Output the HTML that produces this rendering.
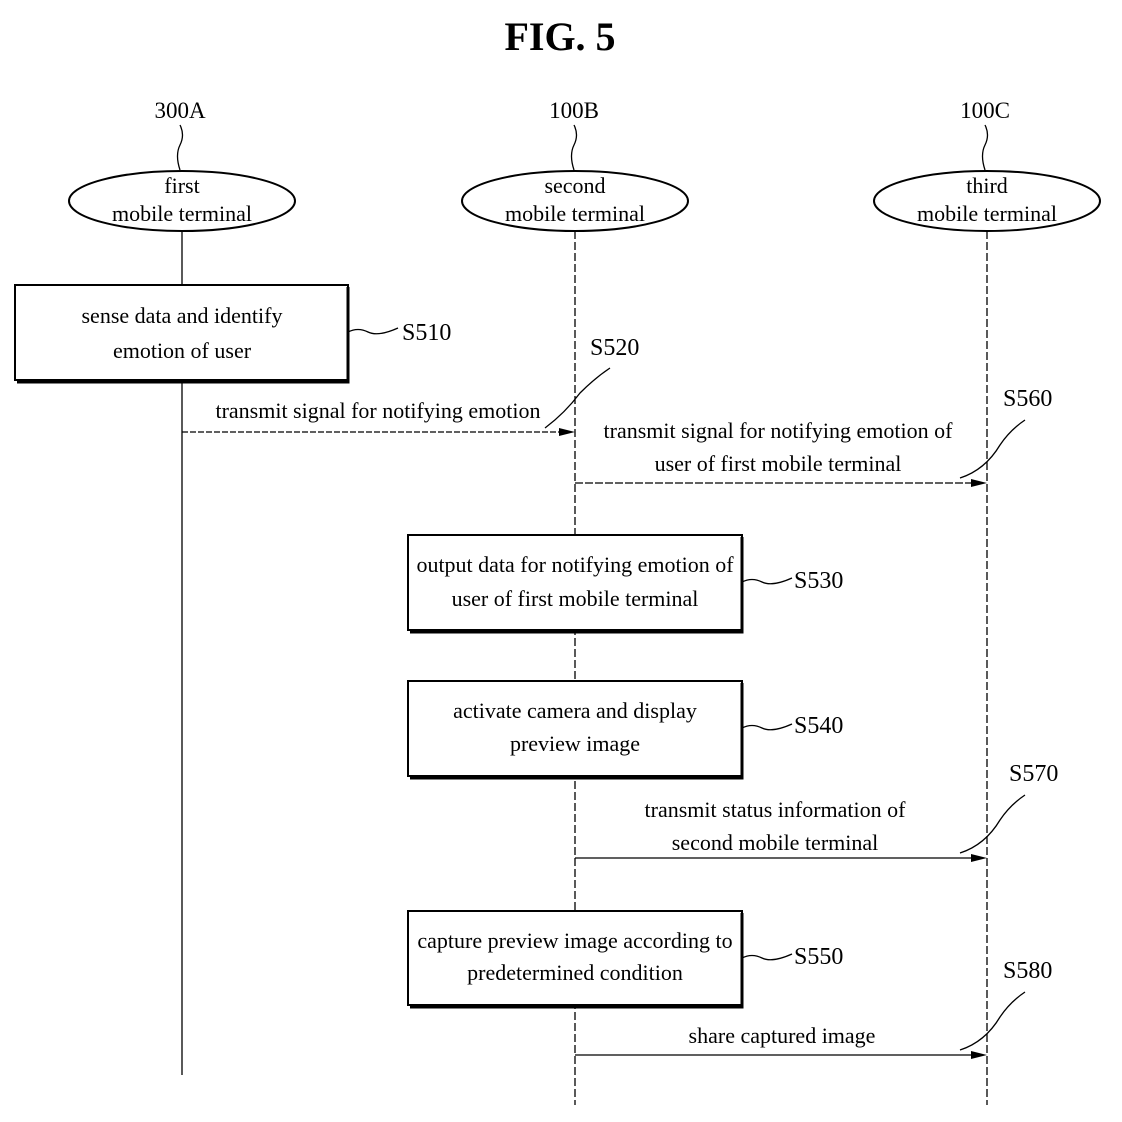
<!DOCTYPE html>
<html><head><style>body{margin:0;background:#fff}svg{display:block}</style></head><body>
<svg width="1122" height="1122" xmlns="http://www.w3.org/2000/svg" font-family="Liberation Serif, serif" fill="none" stroke="#000">
<text x="560" y="50" font-size="40" font-weight="bold" text-anchor="middle" fill="#000" stroke="none">FIG. 5</text>
<g font-size="23" fill="#000" stroke="none" text-anchor="middle">
<text x="180" y="118">300A</text><text x="574" y="118">100B</text><text x="985" y="118">100C</text>
</g>
<g stroke-width="1.3">
<path d="M180 125 q5 10 0 20 q-5 10 0 25"/><path d="M574 125 q5 10 0 20 q-5 10 0 25"/><path d="M985 125 q5 10 0 20 q-5 10 0 25"/>
<ellipse cx="182" cy="201" rx="113" ry="30" stroke-width="2"/>
<ellipse cx="575" cy="201" rx="113" ry="30" stroke-width="2"/>
<ellipse cx="987" cy="201" rx="113" ry="30" stroke-width="2"/>
<line x1="182" y1="231" x2="182" y2="1075"/>
<line x1="575" y1="231" x2="575" y2="1105" stroke-dasharray="8 3"/>
<line x1="987" y1="231" x2="987" y2="1105" stroke-dasharray="8 3"/>
</g>
<g font-size="22" fill="#000" stroke="none" text-anchor="middle">
<text x="182" y="193">first</text><text x="182" y="221">mobile terminal</text>
<text x="575" y="193">second</text><text x="575" y="221">mobile terminal</text>
<text x="987" y="193">third</text><text x="987" y="221">mobile terminal</text>
</g>
<g fill="#fff" stroke-width="2">
<rect x="15" y="285" width="333" height="95"/>
<rect x="408" y="535" width="334" height="95"/>
<rect x="408" y="681" width="334" height="95"/>
<rect x="408" y="911" width="334" height="94"/>
</g>
<g stroke-width="3"><path d="M348 287V382H17"/><path d="M742 537V632H410"/><path d="M742 683V778H410"/><path d="M742 913V1007H410"/></g>
<g font-size="22" fill="#000" stroke="none" text-anchor="middle">
<text x="182" y="323">sense data and identify</text><text x="182" y="358">emotion of user</text>
<text x="575" y="572">output data for notifying emotion of</text><text x="575" y="606">user of first mobile terminal</text>
<text x="575" y="718">activate camera and display</text><text x="575" y="751">preview image</text>
<text x="575" y="948">capture preview image according to</text><text x="575" y="980">predetermined condition</text>
<text x="378" y="418">transmit signal for notifying emotion</text>
<text x="778" y="438">transmit signal for notifying emotion of</text><text x="778" y="471">user of first mobile terminal</text>
<text x="775" y="817">transmit status information of</text><text x="775" y="850">second mobile terminal</text>
<text x="782" y="1043">share captured image</text>
</g>
<g font-size="24" fill="#000" stroke="none">
<text x="402" y="340">S510</text><text x="590" y="355">S520</text><text x="1003" y="406">S560</text>
<text x="794" y="588">S530</text><text x="794" y="733">S540</text><text x="1009" y="781">S570</text>
<text x="794" y="964">S550</text><text x="1003" y="978">S580</text>
</g>
<g stroke-width="1.3">
<path d="M348 332 q10 -5 20 0 q10 5 30 -4"/>
<path d="M742 582 q10 -5 20 0 q10 5 30 -4"/><path d="M742 728 q10 -5 20 0 q10 5 30 -4"/><path d="M742 958 q10 -5 20 0 q10 5 30 -4"/>
<path d="M610 368 q-15 10 -30 25 q-15 20 -35 35"/>
<path d="M1025 420 q-15 10 -25 25 q-15 25 -40 33"/>
<path d="M1025 795 q-15 10 -25 25 q-15 25 -40 33"/>
<path d="M1025 992 q-15 10 -25 25 q-15 25 -40 33"/>
<line x1="182" y1="432" x2="568" y2="432" stroke-dasharray="6 2"/>
<line x1="575" y1="483" x2="980" y2="483" stroke-dasharray="8 2"/>
<line x1="575" y1="858" x2="980" y2="858"/>
<line x1="575" y1="1055" x2="980" y2="1055"/>
</g>
<g fill="#000" stroke="none">
<path d="M575 432l-16 -4v8z"/><path d="M987 483l-16 -4v8z"/><path d="M987 858l-16 -4v8z"/><path d="M987 1055l-16 -4v8z"/>
</g>
</svg>
</body></html>
